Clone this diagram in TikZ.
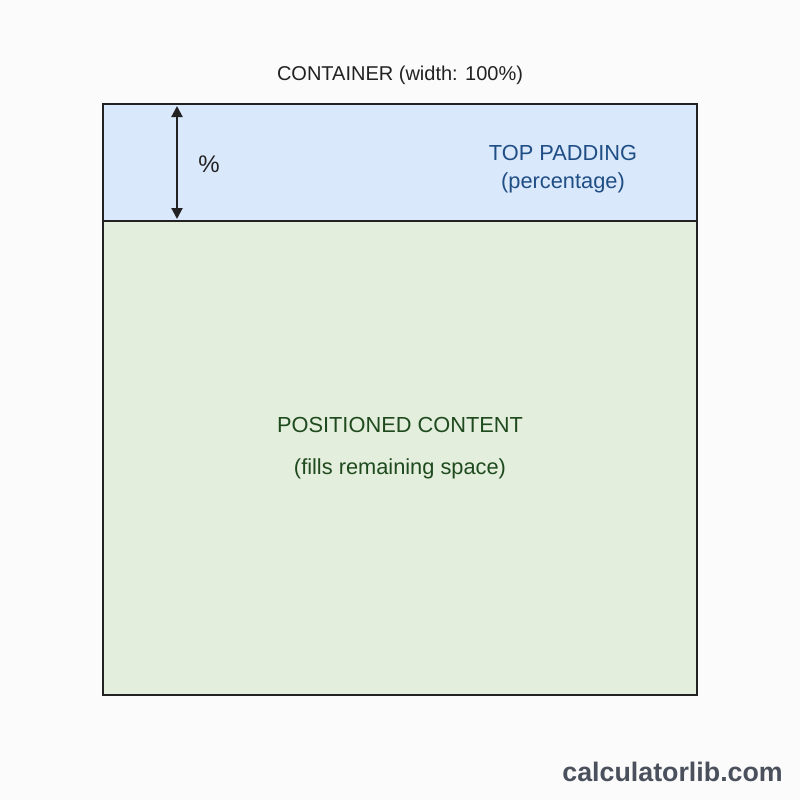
\documentclass[tikz,border=0pt]{standalone}
\usepackage{fontspec}
\setmainfont{Liberation Sans}
\usetikzlibrary{arrows.meta}
\definecolor{bgc}{HTML}{FBFBFB}
\definecolor{bluefill}{HTML}{DAE8FC}
\definecolor{greenfill}{HTML}{E3EEDD}
\definecolor{bluetext}{HTML}{1F4E85}
\definecolor{greentext}{HTML}{1E4A1E}
\definecolor{edgec}{HTML}{222222}
\definecolor{marktext}{HTML}{4A505C}
\tikzset{
  lbl/.style={font=\fontsize{20}{24}\selectfont, inner sep=0pt, anchor=base},
  inner/.style={font=\fontsize{21.8}{26}\selectfont},
  boxline/.style={draw=edgec, line width=1.8pt},
}
\begin{document}
\begin{tikzpicture}[x=1pt,y=-1pt]
\fill[bgc] (0,0) rectangle (800,800);
\useasboundingbox (0,0) rectangle (800,800);
\fill[greenfill] (103,221) rectangle (697,695);
\fill[bluefill] (103,104) rectangle (697,221);
\draw[boxline] (103,104) rectangle (697,695);
\draw[boxline] (103,221) -- (697,221);
\coordinate (atop) at (177,106);
\coordinate (abot) at (177,219);
\draw[line width=2.1pt, edgec, {Triangle[length=11pt,width=11pt]}-{Triangle[length=11pt,width=11pt]}] (atop) -- (abot);
\node[lbl, text=edgec] (title) at (400,81) {CONTAINER (width: 100\%)};
\node[lbl, text=edgec, font=\fontsize{24}{28}\selectfont] (pct) at (209,172) {\%};
\node[lbl, inner, text=bluetext] (tp1) at (563,160) {TOP PADDING};
\node[lbl, inner, text=bluetext] (tp2) at (563,188) {(percentage)};
\node[lbl, inner, text=greentext] (pc1) at (400,432) {POSITIONED CONTENT};
\node[lbl, inner, text=greentext] (pc2) at (400,474) {(fills remaining space)};
\node[lbl, text=marktext, anchor=base east, font=\fontsize{26.8}{32}\selectfont\bfseries] (mark) at (783,781) {calculatorlib.com};
\end{tikzpicture}
\end{document}
